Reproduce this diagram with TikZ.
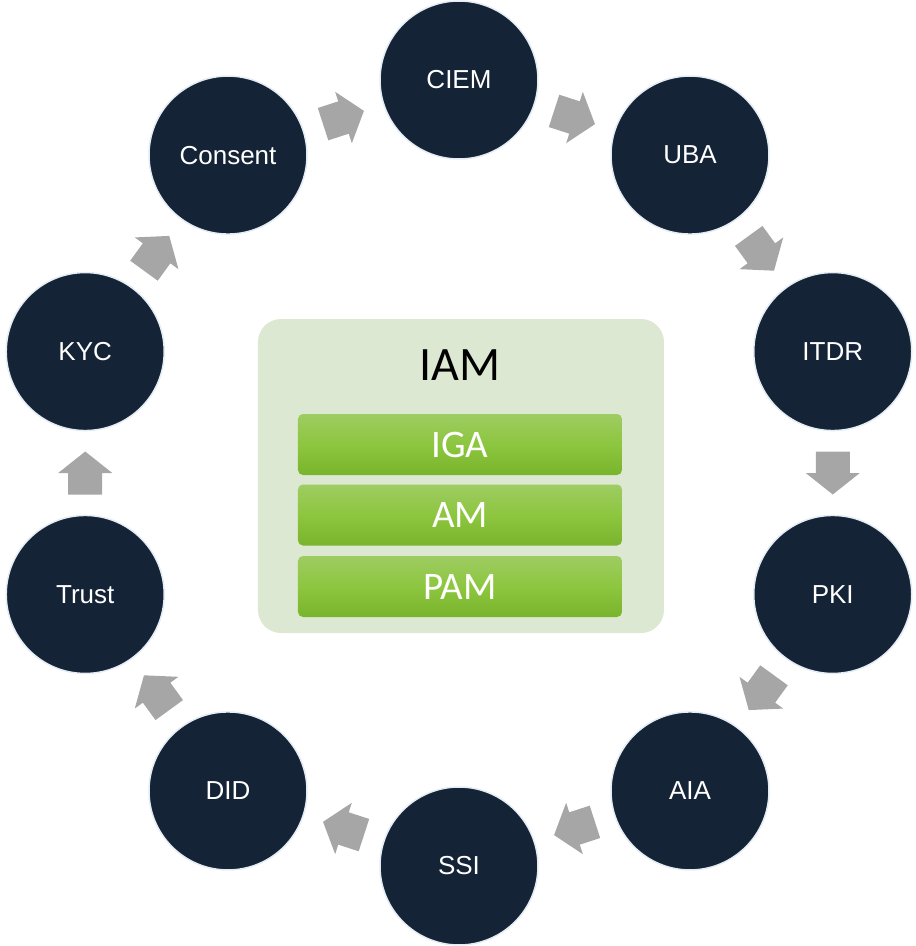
\documentclass[tikz,border=0pt]{standalone}
\usepackage{fontspec}
\setmainfont{Liberation Sans}
\newfontfamily\calibrifont{Carlito}
\usetikzlibrary{calc}
\definecolor{navy}{RGB}{20,35,54}
\definecolor{ringedge}{RGB}{228,236,244}
\definecolor{arrowgray}{RGB}{166,166,166}
\definecolor{boxgreen}{RGB}{221,232,210}
\definecolor{bartop}{RGB}{158,204,98}
\definecolor{barmid}{RGB}{141,198,63}
\definecolor{barbot}{RGB}{121,180,45}
\begin{document}
\begin{tikzpicture}[x=1pt,y=1pt,
  stage/.style={circle,minimum size=158pt,inner sep=0pt,fill=navy,draw=ringedge,line width=1.5pt,text=white,font=\fontsize{26}{31}\selectfont},
  layerbar/.style={rounded corners=5pt,top color=bartop,bottom color=barbot,middle color=barmid,draw=none,minimum width=324pt,minimum height=61pt,inner sep=0pt,text=white,font=\calibrifont\fontsize{39}{45}\selectfont},
  blockarrow/.pic={\fill[arrowgray] (-21.5,-17) -- (0,-17) -- (0,-27) -- (21.5,0) -- (0,27) -- (0,17) -- (-21.5,17) -- cycle;}
]
\useasboundingbox (-459,-473) rectangle (457,473);
% centre box
\node[rounded corners=23pt,fill=boxgreen,minimum width=406pt,minimum height=314pt,inner sep=0pt] (iam) at (2,-3) {};
\node[font=\calibrifont\fontsize{48}{56}\selectfont,text=black] (iamtitle) at (1,108) {IAM};
\node[layerbar] (iga) at (1,28.5) {IGA};
\node[layerbar] (am) at (1,-42) {AM};
\node[layerbar] (pam) at (1,-113.5) {PAM};
% ring
\node[stage] (ciem) at (90:393) {CIEM};
\node[stage] (uba) at (54:393) {UBA};
\node[stage] (itdr) at (18:393) {ITDR};
\node[stage] (pki) at (-18:393) {PKI};
\node[stage] (aia) at (-54:393) {AIA};
\node[stage] (ssi) at (-90:393) {SSI};
\node[stage] (did) at (-126:393) {DID};
\node[stage] (trust) at (-162:393) {Trust};
\node[stage] (kyc) at (162:393) {KYC};
\node[stage] (consent) at (126:393) {Consent};
% arrows
\foreach \a/\b/\r in {ciem/uba/-18, uba/itdr/-54, itdr/pki/-90, pki/aia/-126, aia/ssi/-162, ssi/did/-198, did/trust/-234, trust/kyc/90, kyc/consent/54, consent/ciem/18}{
  \path ($(\a)!0.5!(\b)$) pic[rotate=\r] {blockarrow};
}
\end{tikzpicture}
\end{document}
